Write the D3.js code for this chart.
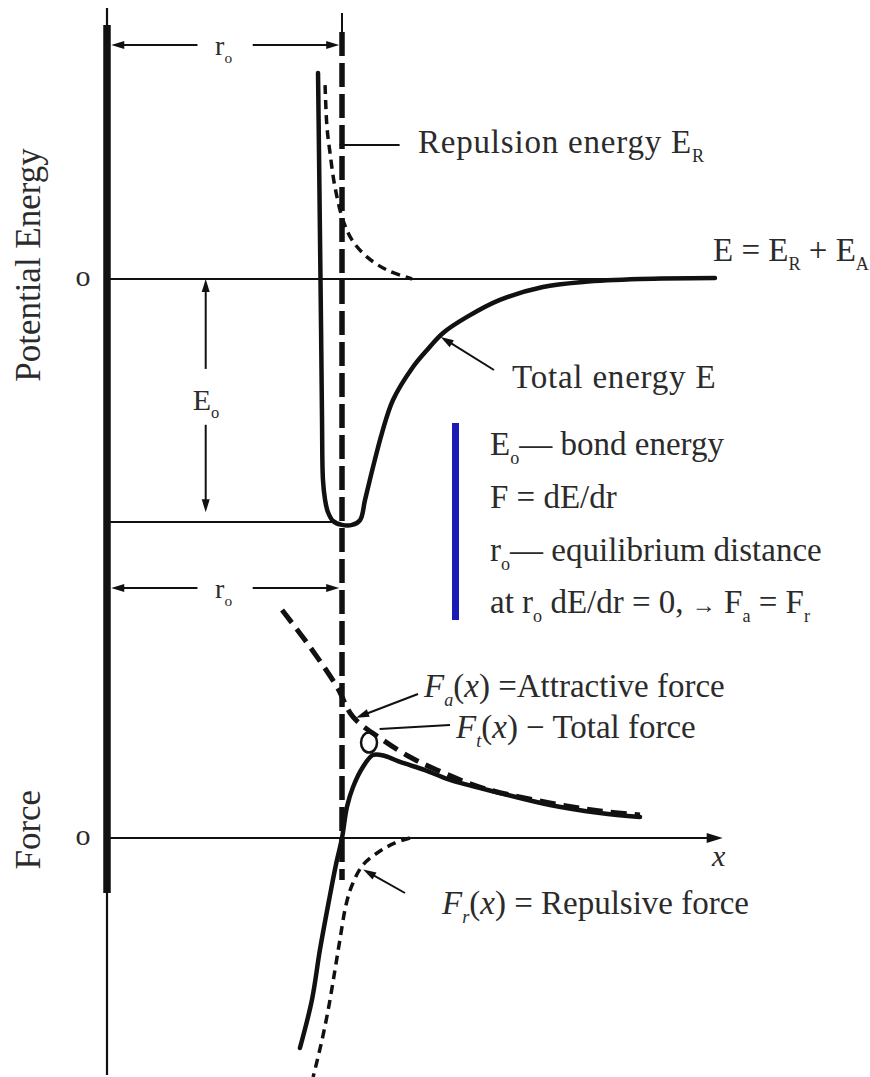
<!DOCTYPE html>
<html>
<head>
<meta charset="utf-8">
<script src="https://cdn.jsdelivr.net/npm/d3@7"></script>
<style>
  body { margin: 0; background: #fff; }
  svg text, svg tspan { font-family: "Liberation Serif" !important; }
</style>
</head>
<body>
<svg id="chart" width="870" height="1077" font-family="Liberation Serif"></svg>
<script>
// Interatomic distance r in units of r0, energy in units of E0,
// force in units of the peak total force.

// Total potential energy E = ER + EA
const totalEnergyR = [0.898, 0.902, 0.906, 0.911, 0.915, 0.919, 0.928, 0.940, 0.962, 1.000, 1.043, 1.077, 1.098, 1.132, 1.170, 1.217, 1.302, 1.362, 1.430, 1.532, 1.672, 1.855, 2.026, 2.268, 2.587];
const totalEnergyE = [0.848, 0.531, 0.202, -0.210, -0.580, -0.827, -0.909, -0.959, -0.996, -1.012, -1.012, -0.992, -0.909, -0.774, -0.634, -0.498, -0.362, -0.292, -0.222, -0.156, -0.086, -0.033, -0.012, 0.000, 0.004];

// Repulsion energy ER
const repulsionEnergyR = [0.928, 0.936, 0.949, 0.970, 1.004, 1.043, 1.106, 1.191, 1.298];
const repulsionEnergyE = [0.798, 0.626, 0.519, 0.379, 0.243, 0.160, 0.091, 0.037, 0.000];

// Total force Ft(x)
const totalForceR = [0.821, 0.872, 0.906, 0.945, 0.974, 1.000, 1.021, 1.047, 1.089, 1.132, 1.183, 1.247, 1.353, 1.460, 1.672, 1.885, 2.098, 2.268];
const totalForceF = [-2.530, -1.952, -1.349, -0.747, -0.325, 0.000, 0.373, 0.614, 0.855, 1.000, 0.988, 0.916, 0.819, 0.699, 0.542, 0.398, 0.301, 0.253];

// Attractive force Fa(x)
const attractiveForceR = [0.745, 0.864, 0.979, 1.047, 1.174, 1.289, 1.404, 1.600, 1.885, 2.098, 2.268];
const attractiveForceF = [2.747, 2.301, 1.819, 1.458, 1.181, 0.976, 0.819, 0.602, 0.422, 0.325, 0.277];

// Repulsive force Fr(x)
const repulsiveForceR = [1.289, 1.226, 1.162, 1.089, 1.043, 1.017, 0.991, 0.970, 0.945, 0.915, 0.877];
const repulsiveForceF = [0.000, -0.060, -0.157, -0.325, -0.566, -0.807, -1.229, -1.590, -2.012, -2.434, -2.880];

// Zero labels on both vertical axes, and axis titles
const zeroTickLabel = ["o"];
const axisTitles = ["Potential Energy", "Force"];

const FONT = "Liberation Serif";
const INK = "#111";
const TEXT = "#2b2b2b";

const svg = d3.select("#chart");

// Scales: shared distance axis, separate energy and force axes
const x = d3.scaleLinear().domain([0, 1]).range([107, 342]);
const yE = d3.scaleLinear().domain([-1, 0]).range([522, 279]);
const yF = d3.scaleLinear().domain([0, 1]).range([838, 755]);

const zip = (a, b) => a.map((v, i) => [v, b[i]]);
const lineE = d3.line().x(d => x(d[0])).y(d => yE(d[1])).curve(d3.curveCatmullRom.alpha(0.5));
const lineF = d3.line().x(d => x(d[0])).y(d => yF(d[1])).curve(d3.curveCatmullRom.alpha(0.5));

// Filled arrowhead drawn as a small triangle at (tx, ty), pointing away from (fx, fy)
function arrowHead(fx, fy, tx, ty, len, wid) {
  const a = Math.atan2(ty - fy, tx - fx);
  const bx = tx - len * Math.cos(a), by = ty - len * Math.sin(a);
  const nx = -Math.sin(a) * wid / 2, ny = Math.cos(a) * wid / 2;
  svg.append("path")
    .attr("d", `M${tx},${ty} L${bx + nx},${by + ny} L${bx - nx},${by - ny} Z`)
    .attr("fill", INK);
}
// Leader line with an arrowhead at its end
function arrow(fx, fy, tx, ty, len, wid, sw) {
  len = len || 13; wid = wid || 8; sw = sw || 2;
  const a = Math.atan2(ty - fy, tx - fx);
  svg.append("line").attr("x1", fx).attr("y1", fy)
    .attr("x2", tx - (len - 2) * Math.cos(a)).attr("y2", ty - (len - 2) * Math.sin(a))
    .attr("stroke", INK).attr("stroke-width", sw);
  arrowHead(fx, fy, tx, ty, len, wid);
}

// Plain text in the serif face
function label(px, py, size) {
  return svg.append("text").attr("x", px).attr("y", py)
    .attr("font-family", FONT).style("font-family", FONT)
    .attr("fill", TEXT).attr("font-size", size);
}

// Rich text helper: parts may be subscripted and/or italic
function richText(px, py, parts, size) {
  const t = label(px, py, size);
  let shift = 0;
  parts.forEach(p => {
    const s = t.append("tspan").text(p.t);
    const target = p.sub ? size * 0.28 : 0;
    if (target !== shift) { s.attr("dy", target - shift); shift = target; }
    if (p.sub) s.attr("font-size", size * 0.55);
    if (p.it) s.attr("font-style", "italic");
    if (p.ls !== undefined) s.attr("letter-spacing", p.ls);
    if (p.size) s.attr("font-size", p.size);
  });
  return t;
}

// ---------- Vertical axis (thick for the drawn range) ----------
svg.append("line").attr("x1", x(0)).attr("x2", x(0))
  .attr("y1", 8).attr("y2", 1075).attr("stroke", INK).attr("stroke-width", 2.2);
svg.append("line").attr("x1", x(0)).attr("x2", x(0))
  .attr("y1", 25).attr("y2", 893).attr("stroke", INK).attr("stroke-width", 7.5);

// ---------- Reference lines ----------
// E = 0
svg.append("line").attr("x1", x(0)).attr("x2", x(2.587))
  .attr("y1", yE(0)).attr("y2", yE(0)).attr("stroke", INK).attr("stroke-width", 2);
// E = -E0
svg.append("line").attr("x1", x(0)).attr("x2", x(0.96))
  .attr("y1", yE(-1)).attr("y2", yE(-1)).attr("stroke", INK).attr("stroke-width", 2);
// Force axis with arrow
arrow(x(0), yF(0), x(2.62), yF(0), 16, 10, 2.2);

// Equilibrium distance r0 (dashed vertical)
svg.append("line").attr("x1", x(1)).attr("x2", x(1))
  .attr("y1", 13).attr("y2", 32).attr("stroke", INK).attr("stroke-width", 2);
svg.append("line").attr("x1", x(1)).attr("x2", x(1))
  .attr("y1", 32).attr("y2", 880).attr("stroke", INK).attr("stroke-width", 5.5)
  .attr("stroke-dasharray", "24,7");

// ---------- Curves ----------
svg.append("path").attr("d", lineE(zip(repulsionEnergyR, repulsionEnergyE)))
  .attr("fill", "none").attr("stroke", INK).attr("stroke-width", 3.5)
  .attr("stroke-dasharray", "9,6");
svg.append("path").attr("d", lineE(zip(totalEnergyR, totalEnergyE)))
  .attr("fill", "none").attr("stroke", INK).attr("stroke-width", 4.5)
  .attr("stroke-linecap", "round");

svg.append("path").attr("d", lineF(zip(attractiveForceR, attractiveForceF)))
  .attr("fill", "none").attr("stroke", INK).attr("stroke-width", 5)
  .attr("stroke-dasharray", "16,8");
svg.append("path").attr("d", lineF(zip(repulsiveForceR, repulsiveForceF)))
  .attr("fill", "none").attr("stroke", INK).attr("stroke-width", 3.5)
  .attr("stroke-dasharray", "9,6");
svg.append("path").attr("d", lineF(zip(totalForceR, totalForceF)))
  .attr("fill", "none").attr("stroke", INK).attr("stroke-width", 4.5)
  .attr("stroke-linecap", "round");

// ---------- Axis titles and zero labels ----------
label(0, 0, 35).attr("transform", "translate(40,265) rotate(-90)")
  .attr("text-anchor", "middle").text(axisTitles[0]);
label(0, 0, 35).attr("transform", `translate(40,${yF(0.1)}) rotate(-90)`)
  .attr("text-anchor", "middle").text(axisTitles[1]);
[yE(0), yF(0)].forEach(py => {
  label(83, py + 7, 30).attr("text-anchor", "middle").text(zeroTickLabel[0]);
});

// ---------- r0 dimension arrows ----------
function rDimension(py) {
  arrow(x(0.385), py, x(0.018), py);
  arrow(x(0.62), py, x(0.988), py);
  richText(x(0.46), py + 10, [{ t: "r" }, { t: "o", sub: true }], 28);
}
rDimension(45);
rDimension(588);

// ---------- E0 dimension ----------
const e0x = x(0.42);
arrow(e0x, yE(-0.37), e0x, yE(0));
arrow(e0x, yE(-0.60), e0x, yE(-0.96));
richText(e0x - 13, 410, [{ t: "E" }, { t: "o", sub: true }], 30);

// ---------- Energy annotations ----------
svg.append("line").attr("x1", x(0.99)).attr("x2", x(1.245)).attr("y1", 145).attr("y2", 145)
  .attr("stroke", INK).attr("stroke-width", 2);
richText(418, 153, [{ t: "Repulsion energy E", ls: 0.8 }, { t: "R", sub: true }], 33);

richText(713, 261, [{ t: "E = E" }, { t: "R", sub: true }, { t: " + E" }, { t: "A", sub: true }], 33);

arrow(494, 370, x(1.420), yE(-0.230) + 2);
richText(512, 388, [{ t: "Total energy E", ls: 0.8 }], 33);

// ---------- Definitions box ----------
svg.append("rect").attr("x", 452).attr("y", 423).attr("width", 7).attr("height", 197)
  .attr("fill", "#1a1ab4");
richText(490, 455, [{ t: "E" }, { t: "o", sub: true }, { t: "— bond energy" }], 33);
richText(490, 508, [{ t: "F = dE/dr" }], 33);
richText(490, 561, [{ t: "r" }, { t: "o", sub: true }, { t: "— equilibrium distance" }], 33);
richText(490, 613, [{ t: "at r" }, { t: "o", sub: true }, { t: " dE/dr = 0, " }, { t: "→", size: 24 }, { t: " F" },
  { t: "a", sub: true }, { t: " = F" }, { t: "r", sub: true }], 33);

// ---------- Force annotations ----------
arrow(418, 694, x(1.06), yF(1.45));
richText(424, 697, [{ t: "F", it: true }, { t: "a", sub: true, it: true }, { t: "(" }, { t: "x", it: true },
  { t: ") =Attractive force" }], 33);

// Total force leader ending in a small loop just left of the peak
svg.append("line").attr("x1", 450).attr("y1", 725).attr("x2", x(1.16)).attr("y2", 729)
  .attr("stroke", INK).attr("stroke-width", 2.2);
svg.append("ellipse").attr("cx", x(1.115)).attr("cy", yF(1.15)).attr("rx", 8).attr("ry", 10)
  .attr("fill", "none").attr("stroke", INK).attr("stroke-width", 2.5);
richText(456, 738, [{ t: "F", it: true }, { t: "t", sub: true, it: true }, { t: "(" }, { t: "x", it: true },
  { t: ") − Total force" }], 33);

label(712, 866, 30).attr("font-style", "italic").text("x");

arrow(405, 893, x(1.09), yF(-0.38));
richText(442, 914, [{ t: "F", it: true }, { t: "r", sub: true, it: true }, { t: "(" }, { t: "x", it: true },
  { t: ") = Repulsive force" }], 33);
</script>
</body>
</html>
